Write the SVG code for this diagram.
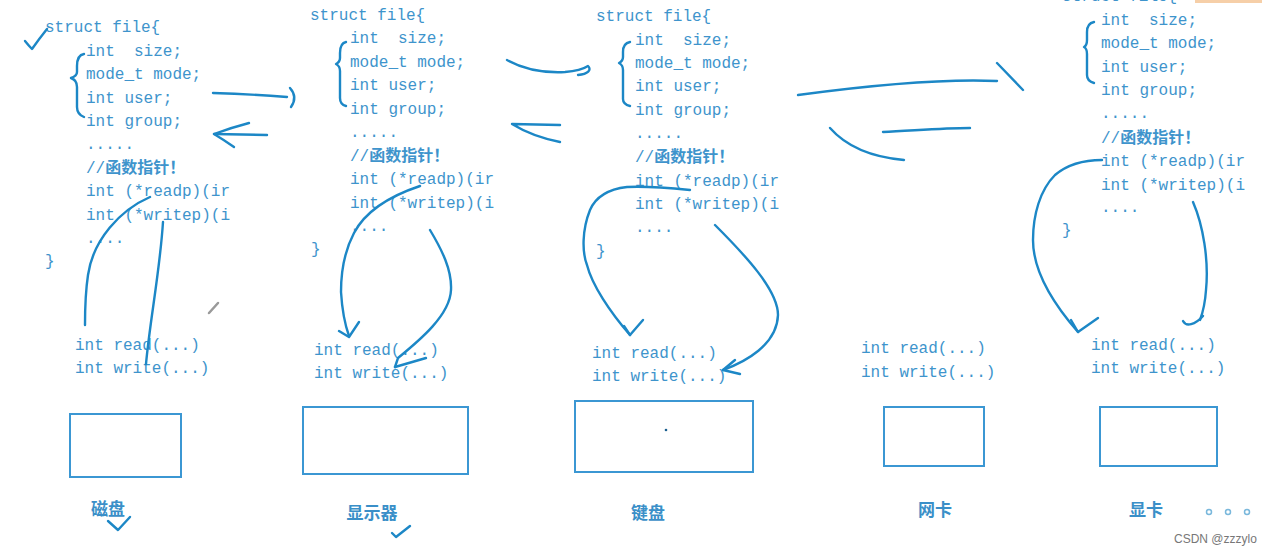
<svg xmlns="http://www.w3.org/2000/svg" width="1262" height="555" viewBox="0 0 1262 555">
<style>
.code{font-family:"Liberation Mono","Noto Sans CJK SC",monospace;font-size:16px;fill:#3e94cc;white-space:pre}
.cjk{font-family:"Noto Sans CJK SC",sans-serif;font-size:16px;font-weight:700}
.lbl{font-family:"Noto Sans CJK SC",sans-serif;font-size:17px;font-weight:700;fill:#3a8fc8;text-anchor:middle}
.dev{fill:none;stroke:#3b97d3;stroke-width:2}
.ink{fill:none;stroke:#1c87c6;stroke-width:2.4;stroke-linecap:round;stroke-linejoin:round}
.wm{font-family:"Liberation Sans",sans-serif;font-size:12px;fill:#777}
</style>
<rect width="1262" height="555" fill="#ffffff"/>
<rect x="1195" y="0" width="67" height="3" fill="#f6cfa8"/>

<g id="struct-disk">
<text class="code" x="45" y="32">struct file{</text>
<text class="code" x="86" y="56">int  size;</text>
<text class="code" x="86" y="79">mode_t mode;</text>
<text class="code" x="86" y="103">int user;</text>
<text class="code" x="86" y="126">int group;</text>
<text class="code" x="86" y="149">.....</text>
<text class="code" x="86" y="173">//<tspan class="cjk">函数指针！</tspan></text>
<text class="code" x="86" y="196">int (*readp)(ir</text>
<text class="code" x="86" y="220">int (*writep)(i</text>
<text class="code" x="86" y="243">....</text>
<text class="code" x="45" y="266">}</text>
</g>
<g id="struct-display">
<text class="code" x="310" y="20">struct file{</text>
<text class="code" x="350" y="43">int  size;</text>
<text class="code" x="350" y="67">mode_t mode;</text>
<text class="code" x="350" y="90">int user;</text>
<text class="code" x="350" y="114">int group;</text>
<text class="code" x="350" y="137">.....</text>
<text class="code" x="350" y="161">//<tspan class="cjk">函数指针！</tspan></text>
<text class="code" x="350" y="184">int (*readp)(ir</text>
<text class="code" x="350" y="208">int (*writep)(i</text>
<text class="code" x="350" y="231">....</text>
<text class="code" x="311" y="254">}</text>
</g>
<g id="struct-keyboard">
<text class="code" x="596" y="21">struct file{</text>
<text class="code" x="635" y="45">int  size;</text>
<text class="code" x="635" y="68">mode_t mode;</text>
<text class="code" x="635" y="91">int user;</text>
<text class="code" x="635" y="115">int group;</text>
<text class="code" x="635" y="138">.....</text>
<text class="code" x="635" y="162">//<tspan class="cjk">函数指针！</tspan></text>
<text class="code" x="635" y="186">int (*readp)(ir</text>
<text class="code" x="635" y="209">int (*writep)(i</text>
<text class="code" x="635" y="232">....</text>
<text class="code" x="596" y="256">}</text>
</g>
<g id="struct-gpu">
<text class="code" x="1062" y="1">struct file{</text>
<text class="code" x="1101" y="25">int  size;</text>
<text class="code" x="1101" y="48">mode_t mode;</text>
<text class="code" x="1101" y="72">int user;</text>
<text class="code" x="1101" y="95">int group;</text>
<text class="code" x="1101" y="118">.....</text>
<text class="code" x="1101" y="143">//<tspan class="cjk">函数指针！</tspan></text>
<text class="code" x="1101" y="166">int (*readp)(ir</text>
<text class="code" x="1101" y="190">int (*writep)(i</text>
<text class="code" x="1101" y="212">....</text>
<text class="code" x="1062" y="235">}</text>
</g>

<g id="dev-disk">
<text class="code" x="75" y="350">int read(...)</text>
<text class="code" x="75" y="373">int write(...)</text>
<rect class="dev" x="70" y="414" width="111" height="63"/>
<text class="lbl" x="108" y="515">磁盘</text>
</g>
<g id="dev-display">
<text class="code" x="314" y="355">int read(...)</text>
<text class="code" x="314" y="378">int write(...)</text>
<rect class="dev" x="303" y="407" width="165" height="67"/>
<text class="lbl" x="372" y="519">显示器</text>
</g>
<g id="dev-keyboard">
<text class="code" x="592" y="358">int read(...)</text>
<text class="code" x="592" y="381">int write(...)</text>
<rect class="dev" x="575" y="401" width="178" height="71"/>
<circle cx="666" cy="430" r="1.3" fill="#1a5f8f"/>
<text class="lbl" x="648" y="519">键盘</text>
</g>
<g id="dev-nic">
<text class="code" x="861" y="353">int read(...)</text>
<text class="code" x="861" y="377">int write(...)</text>
<rect class="dev" x="884" y="407" width="100" height="59"/>
<text class="lbl" x="935" y="516">网卡</text>
</g>
<g id="dev-gpu">
<text class="code" x="1091" y="350">int read(...)</text>
<text class="code" x="1091" y="373">int write(...)</text>
<rect class="dev" x="1100" y="407" width="117" height="59"/>
<text class="lbl" x="1146" y="516">显卡</text>
</g>
<g id="more">
<circle cx="1209" cy="512" r="2.5" fill="none" stroke="#7ab8dc" stroke-width="1.5"/>
<circle cx="1228" cy="512" r="2.5" fill="none" stroke="#7ab8dc" stroke-width="1.5"/>
<circle cx="1247" cy="512" r="2.5" fill="none" stroke="#7ab8dc" stroke-width="1.5"/>
</g>

<g id="connectors">
<path class="ink" d="M25,41 Q29,46 32,49 Q39,39 47,29"/>
<path class="ink" d="M84,54 C78,55 77,60 77,66 L77,72 C77,75 74,77 71,78 C74,79 77,82 77,87 L77,107 C77,112 79,115 84,117"/>
<path class="ink" d="M213,93 Q250,94 287,97"/>
<path class="ink" d="M290,88 Q298,97 291,107"/>
<path class="ink" d="M267,135 L214,134"/>
<path class="ink" d="M249,123 Q230,128 214,134 Q224,140 234,147"/>
<path class="ink" d="M150,197 C120,210 93,240 88,275 C85,295 85,310 85,325"/>
<path class="ink" d="M163,222 C160,270 150,320 146,364"/>

<path class="ink" d="M346,42 C341,43 340,48 340,53 L340,58 C340,61 338,63 336,64 C338,65 340,67 340,71 L340,98 C340,102 342,105 346,106"/>
<path class="ink" d="M420,186 C390,196 365,212 354,233 C344,252 341,272 341,292 C342,308 344,322 349,336"/>
<path class="ink" d="M339,331 L349,337 L359,322"/>
<path class="ink" d="M430,230 C442,250 452,270 451,290 C450,315 420,340 398,358 L395,367"/>
<path class="ink" d="M426,358 L395,367"/>
<path class="ink" d="M507,60 C525,70 545,73 565,72 C578,71 585,68 588,66 C592,70 588,74 578,75"/>
<path class="ink" d="M560,125 L512,124 C525,132 540,138 560,142"/>

<path class="ink" d="M630,42 C624,43 623,47 623,52 L623,57 C623,60 621,62 619,63 C621,64 623,66 623,70 L623,99 C623,103 626,105 630,106"/>
<path class="ink" d="M690,190 C670,188 645,186 627,187 C610,189 596,196 590,210 C582,230 582,252 587,265 C592,285 610,312 630,335"/>
<path class="ink" d="M624,326 L630,335 L643,320"/>
<path class="ink" d="M715,225 C745,255 778,290 778,315 C777,345 745,362 723,370"/>
<path class="ink" d="M735,360 L723,370 L740,374"/>

<path class="ink" d="M798,95 C850,88 930,78 997,81"/>
<path class="ink" d="M997,63 L1023,90"/>
<path class="ink" d="M883,132 C910,131 940,128 970,128"/>
<path class="ink" d="M830,128 C845,145 870,157 904,160"/>

<path class="ink" d="M1094,22 C1089,23 1087,27 1087,32 L1087,40 C1087,44 1086,46 1084,47 C1086,48 1087,50 1087,54 L1087,75 C1087,79 1090,82 1094,83"/>
<path class="ink" d="M1102,160 C1085,160 1068,164 1055,175 C1040,190 1033,215 1033,240 C1033,270 1050,300 1078,332"/>
<path class="ink" d="M1071,320 L1078,332 L1098,318"/>
<path class="ink" d="M1193,202 C1203,225 1209,260 1206,290 C1205,305 1203,312 1200,320"/>
<path class="ink" d="M1183,321 C1186,327 1195,325 1203,316"/>
</g>
<path d="M209,313 L218,303" stroke="#9a9a9a" stroke-width="2.5" stroke-linecap="round"/>
<path class="ink" d="M108,521 L118,530 L130,517"/>
<path class="ink" d="M392,533 L396,537 L410,526"/>
<text class="wm" x="1174" y="543">CSDN @zzzylo</text>
</svg>
